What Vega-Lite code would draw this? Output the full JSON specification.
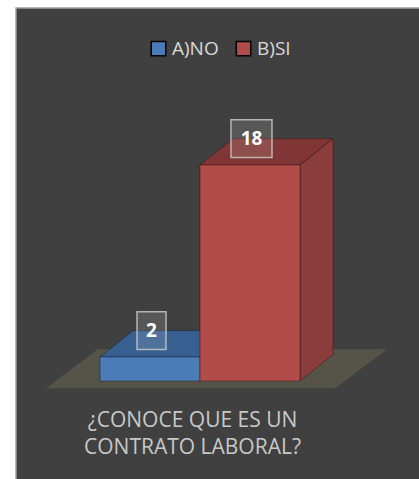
{
  "$schema": "https://vega.github.io/schema/vega-lite/v6.json",
  "autosize": {"type": "none"},
  "width": 413,
  "height": 481,
  "padding": {"left": 16, "top": 8, "right": 0, "bottom": 0},
  "background": "white",
  "view": {"fill": "#404040", "stroke": "#a0a0a0", "strokeWidth": 1.5},
  "config": {"font": "Open Sans"},
  "title": {
    "text": ["¿CONOCE QUE ES UN", "CONTRATO LABORAL?"],
    "orient": "bottom",
    "anchor": "middle",
    "frame": "group",
    "offset": -79,
    "dx": -30,
    "fontSize": 21,
    "font": "Open Sans",
    "fontWeight": "normal",
    "color": "#c8c8c8",
    "lineHeight": 27,
    "baseline": "top"
  },
  "datasets": {
    "barras": [
      {"categoria": "A)NO", "valor": 2},
      {"categoria": "B)SI", "valor": 18}
    ]
  },
  "data": {"name": "barras"},
  "transform": [
    {"window": [{"op": "row_number", "as": "n"}]},
    {"calculate": "datum.n - 1", "as": "i"},
    {"calculate": "datum.i + 1", "as": "i1"},
    {"calculate": "0.33", "as": "dx"},
    {"calculate": "2.2", "as": "dy"}
  ],
  "encoding": {},
  "resolve": {"scale": {"color": "independent"}},
  "layer": [
    {
      "data": {"values": [{"borde": "frente"}, {"borde": "fondo"}]},
      "transform": [
        {"calculate": "datum.borde == 'frente' ? -0.6 : 2.65", "as": "py"},
        {"calculate": "datum.borde == 'frente' ? -0.54 : -0.02", "as": "px0"},
        {"calculate": "datum.borde == 'frente' ? 2.35 : 2.87", "as": "px1"}
      ],
      "mark": {"type": "area", "orient": "horizontal", "color": "#565349"},
      "encoding": {
        "y": {"field": "py", "type": "quantitative", "scale": {"domain": [-9.0, 31.083], "nice": false, "zero": false}, "axis": null},
        "x": {"field": "px0", "type": "quantitative", "scale": {"domain": [-0.84, 3.29], "nice": false, "zero": false}, "axis": null},
        "x2": {"field": "px1"}
      }
    },
    {
      "transform": [
        {"calculate": "0", "as": "p0"},
        {"calculate": "1", "as": "p1"},
        {"fold": ["p0", "p1"], "as": ["k", "t"]},
        {"calculate": "datum.valor + datum.t * datum.dy", "as": "ty"},
        {"calculate": "datum.i + datum.t * datum.dx", "as": "tx0"},
        {"calculate": "datum.i1 + datum.t * datum.dx", "as": "tx1"}
      ],
      "mark": {"type": "area", "orient": "horizontal", "stroke": "#000000", "strokeOpacity": 0.3, "strokeWidth": 1},
      "encoding": {
        "detail": {"field": "categoria"},
        "y": {"field": "ty", "type": "quantitative", "axis": null},
        "x": {"field": "tx0", "type": "quantitative", "axis": null},
        "x2": {"field": "tx1"},
        "color": {"field": "categoria", "type": "nominal", "scale": {"domain": ["A)NO", "B)SI"], "range": ["#375f8f", "#7f3634"]}, "legend": null}
      }
    },
    {
      "transform": [
        {"calculate": "0", "as": "p0"},
        {"calculate": "1", "as": "p1"},
        {"fold": ["p0", "p1"], "as": ["k", "t"]},
        {"calculate": "datum.i1 + datum.t * datum.dx", "as": "sx"},
        {"calculate": "datum.t * datum.dy", "as": "sy0"},
        {"calculate": "datum.valor + datum.t * datum.dy", "as": "sy1"}
      ],
      "mark": {"type": "area", "orient": "vertical", "stroke": "#000000", "strokeOpacity": 0.3, "strokeWidth": 1},
      "encoding": {
        "detail": {"field": "categoria"},
        "x": {"field": "sx", "type": "quantitative", "axis": null},
        "y": {"field": "sy0", "type": "quantitative", "axis": null},
        "y2": {"field": "sy1"},
        "color": {"field": "categoria", "type": "nominal", "scale": {"domain": ["A)NO", "B)SI"], "range": ["#2f5079", "#8b3d3b"]}, "legend": null}
      }
    },
    {
      "mark": {"type": "rect", "stroke": "#000000", "strokeOpacity": 0.3, "strokeWidth": 1.2},
      "encoding": {
        "x": {"field": "i", "type": "quantitative", "axis": null},
        "x2": {"field": "i1"},
        "y": {"field": "valor", "type": "quantitative", "axis": null},
        "y2": {"datum": 0},
        "color": {
          "field": "categoria",
          "type": "nominal",
          "scale": {"domain": ["A)NO", "B)SI"], "range": ["#4a7cb8", "#b24c48"]},
          "legend": {
            "title": null,
            "orient": "none",
            "direction": "horizontal",
            "legendX": 133,
            "legendY": 31,
            "symbolType": "square",
            "symbolSize": 210,
            "symbolStrokeWidth": 1.5,
            "symbolOpacity": 1,
            "labelFontSize": 19,
            "labelFont": "Open Sans",
            "labelColor": "#d9d9d9",
            "labelOffset": 4,
            "columnPadding": 14
          }
        }
      }
    },
    {
      "transform": [
        {"calculate": "0.17 + 0.12 * length(toString(datum.valor))", "as": "w"},
        {"calculate": "datum.i + 0.515 - datum.w / 2", "as": "bx0"},
        {"calculate": "datum.i + 0.515 + datum.w / 2", "as": "bx1"},
        {"calculate": "datum.valor + datum.dy - 1.58", "as": "by0"},
        {"calculate": "datum.valor + datum.dy + 1.58", "as": "by1"}
      ],
      "mark": {"type": "rect", "fill": "#ffffff", "fillOpacity": 0.12, "stroke": "#c8c8c8", "strokeOpacity": 0.85, "strokeWidth": 1.5},
      "encoding": {
        "x": {"field": "bx0", "type": "quantitative", "axis": null},
        "x2": {"field": "bx1"},
        "y": {"field": "by0", "type": "quantitative", "axis": null},
        "y2": {"field": "by1"}
      }
    },
    {
      "transform": [
        {"calculate": "datum.i + 0.515", "as": "lx"},
        {"calculate": "datum.valor + datum.dy", "as": "ly"}
      ],
      "mark": {"type": "text", "align": "center", "baseline": "middle", "font": "Open Sans", "fontWeight": "bold", "fontSize": 19, "color": "#ffffff"},
      "encoding": {
        "x": {"field": "lx", "type": "quantitative", "axis": null},
        "y": {"field": "ly", "type": "quantitative", "axis": null},
        "text": {"field": "valor", "type": "quantitative"}
      }
    }
  ]
}
